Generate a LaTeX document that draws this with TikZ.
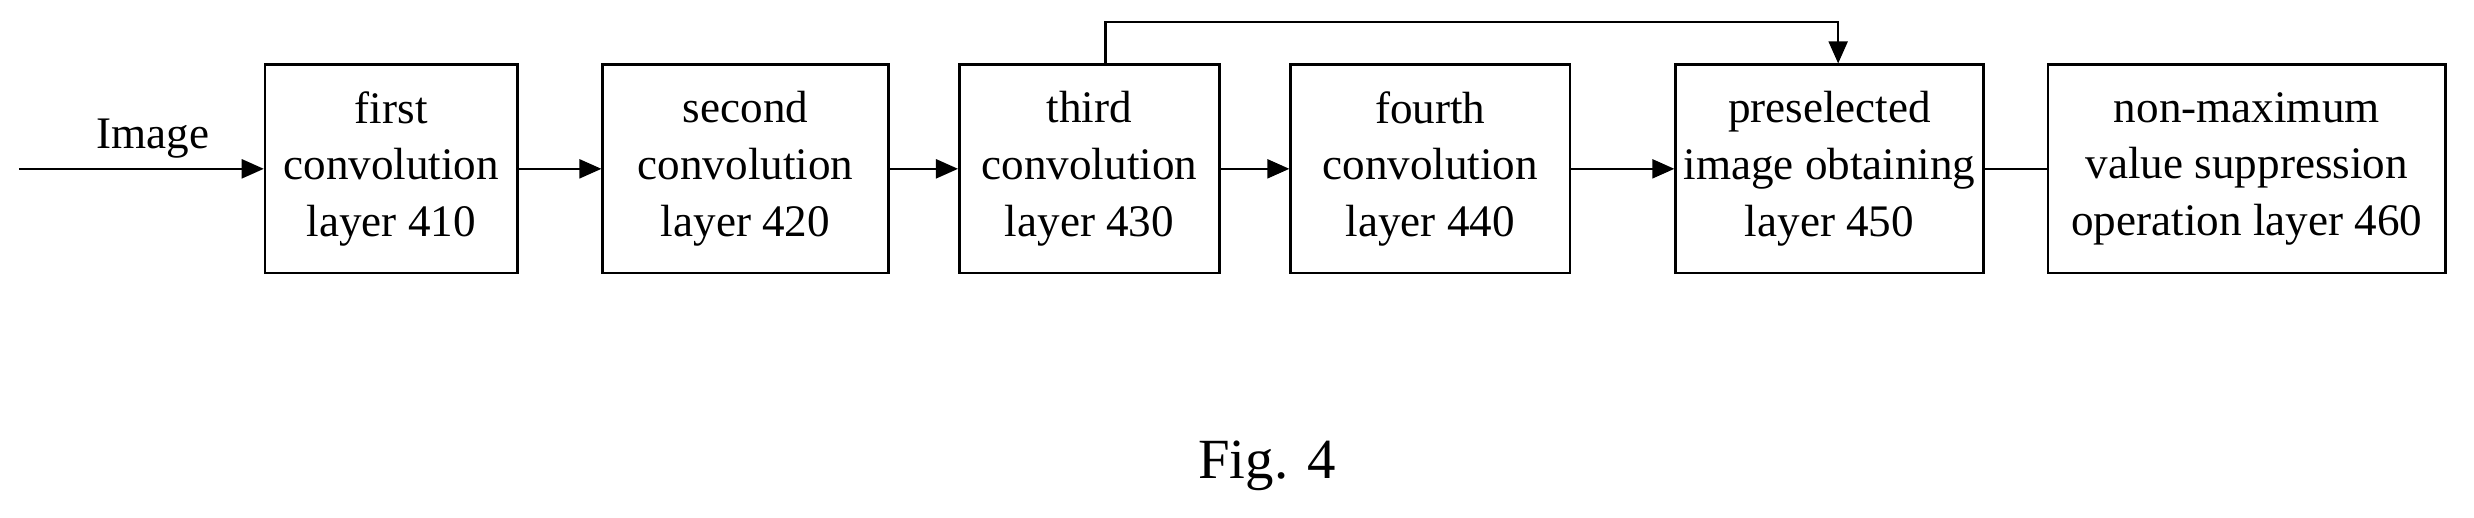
\documentclass[tikz,border=0pt]{standalone}
\usepackage{fontspec}
\setmainfont{Liberation Serif}
\usetikzlibrary{arrows.meta}
\tikzset{
  layer/.style={draw, thick, align=center, minimum height=66pt, inner sep=1pt,
    font=\fontsize{14.3}{18}\selectfont},
  flow/.style={-{Triangle[length=7pt,width=6pt]}, thick}
}
\begin{document}
\begin{tikzpicture}[x=0.5pt, y=-0.5pt]
  \useasboundingbox (0,0) rectangle (1568,328);
  % processing layers
  \node[layer, minimum width=80pt] (first) at (248,107) {first\\convolution\\layer 410};
  \node[layer, minimum width=90.5pt] (second) at (472.5,107) {second\\convolution\\layer 420};
  \node[layer, minimum width=82.5pt] (third) at (690.5,107) {third\\convolution\\layer 430};
  \node[layer, minimum width=88.5pt] (fourth) at (906.5,107) {fourth\\convolution\\layer 440};
  \node[layer, minimum width=97.5pt] (presel) at (1159.5,107) {preselected\\image obtaining\\layer 450};
  \node[layer, minimum width=126pt] (nms) at (1424,107) {non-maximum\\value suppression\\operation layer 460};
  \coordinate (input) at (12,107);
  \node[font=\fontsize{14.3}{17}\selectfont] at (97,88) {Image};
  \node[font=\fontsize{18}{21}\selectfont] (caption) at (803,295) {Fig. 4};
  % arrows
  \draw[flow] (input) -- (first);
  \draw[flow] (first) -- (second);
  \draw[flow] (second) -- (third);
  \draw[flow] (third) -- (fourth);
  \draw[flow] (fourth) -- (presel);
  \draw[thick] (presel) -- (nms);
  \draw[flow] (third.north) ++(10,0) |- (1165,14) -- (presel.north -| 1165,0);
\end{tikzpicture}
\end{document}
